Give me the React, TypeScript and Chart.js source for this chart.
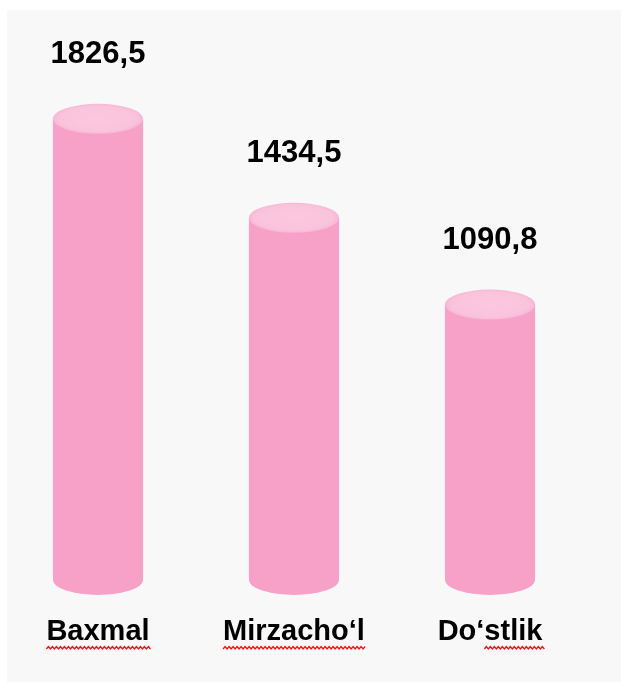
import React, { useEffect, useRef } from "react";
import { Chart, registerables } from "chart.js";

Chart.register(...registerables);

const categories = ["Baxmal", "Mirzacho‘l", "Do‘stlik"];
const values = [1826.5, 1434.5, 1090.8];
const valueLabels = ["1826,5", "1434,5", "1090,8"];
const spellUnderlineFrom = [0, 0, 3];

const BODY = "#F7A1C9";
const TOP = "#FAC3DC";
const RY = 15;
const FONT = "'Liberation Sans', Arial, Helvetica, sans-serif";

const cylinderPlugin = {
  id: "cylinders",
  afterDatasetsDraw(chart: any) {
    const ctx: CanvasRenderingContext2D = chart.ctx;
    const meta = chart.getDatasetMeta(0);
    meta.data.forEach((bar: any, i: number) => {
      const { x, y, base, width } = bar.getProps(["x", "y", "base", "width"], true);
      const rx = width / 2;
      ctx.save();
      // bottom half ellipse
      ctx.fillStyle = BODY;
      ctx.beginPath();
      ctx.ellipse(x, base, rx, RY, 0, 0, Math.PI);
      ctx.fill();
      // top ellipse
      const g = ctx.createRadialGradient(x, y, 2, x, y, rx);
      g.addColorStop(0, "#FBC8DF");
      g.addColorStop(0.85, TOP);
      g.addColorStop(1, "#F8B6D3");
      ctx.save();
      ctx.translate(x, y);
      ctx.scale(1, RY / rx);
      ctx.translate(-x, -y);
      ctx.fillStyle = g;
      ctx.beginPath();
      ctx.arc(x, y, rx, 0, Math.PI * 2);
      ctx.fill();
      ctx.restore();

      // value label
      ctx.fillStyle = "#000";
      ctx.font = "bold 31px " + FONT;
      ctx.textAlign = "center";
      ctx.textBaseline = "alphabetic";
      ctx.fillText(valueLabels[i], x, y - RY - 41);

      // category label
      ctx.font = "bold 29px " + FONT;
      const label = categories[i];
      const ly = base + 60;
      ctx.fillText(label, x, ly);
      const w = ctx.measureText(label).width;
      const startX = x - w / 2 + ctx.measureText(label.slice(0, spellUnderlineFrom[i])).width;
      const endX = x + w / 2;
      ctx.strokeStyle = "#FF1010";
      ctx.lineWidth = 1.3;
      ctx.beginPath();
      let up = true;
      ctx.moveTo(startX, ly + 9);
      for (let px = startX + 2; px <= endX + 2; px += 2) {
        ctx.lineTo(px, ly + (up ? 6.5 : 9));
        up = !up;
      }
      ctx.stroke();
      ctx.restore();
    });
  },
};

export default function App() {
  const canvasRef = useRef<HTMLCanvasElement | null>(null);

  useEffect(() => {
    if (!canvasRef.current) return;
    const chart = new Chart(canvasRef.current, {
      type: "bar",
      data: {
        labels: categories,
        datasets: [
          {
            data: values,
            backgroundColor: BODY,
            borderWidth: 0,
            barPercentage: 0.46,
            categoryPercentage: 1,
          },
        ],
      },
      options: {
        responsive: true,
        maintainAspectRatio: false,
        animation: false,
        layout: { padding: { left: 0, right: 33, top: 75, bottom: 107 } },
        plugins: {
          legend: { display: false },
          tooltip: { enabled: false },
        },
        scales: {
          x: { display: false, offset: true },
          y: { display: false, min: 0, max: 2000 },
        },
      },
      plugins: [cylinderPlugin],
    });
    return () => chart.destroy();
  }, []);

  return (
    <div style={{ position: "fixed", left: 0, top: 0, width: 621, height: 687, background: "#fff" }}>
      <div
        style={{ position: "absolute", left: 7, top: 10, width: 614, height: 672, background: "#f8f8f8" }}
      />
      <div style={{ position: "absolute", left: 0, top: 0, width: 621, height: 687 }}>
        <canvas ref={canvasRef} />
      </div>
    </div>
  );
}
